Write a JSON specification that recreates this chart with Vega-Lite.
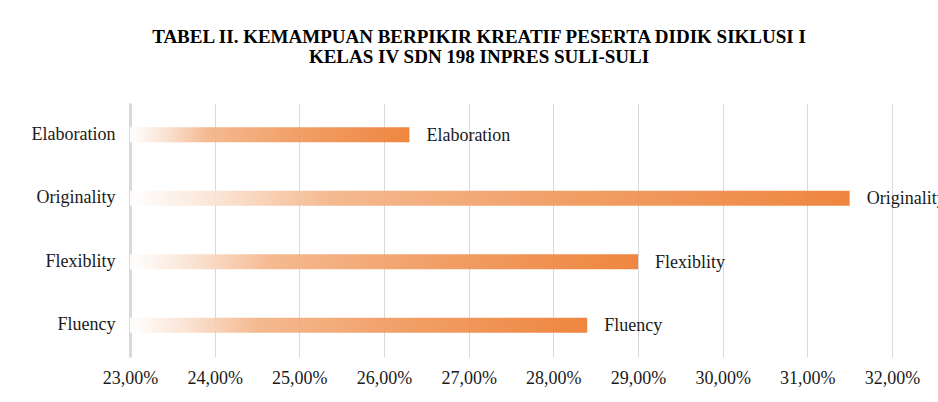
{
  "$schema": "https://vega.github.io/schema/vega-lite/v6.json",
  "autosize": "none",
  "width": 762,
  "height": 254,
  "padding": {"left": 130, "top": 103, "right": 46, "bottom": 45},
  "background": "white",
  "config": {
    "locale": {"number": {"decimal": ",", "thousands": ".", "grouping": [3], "currency": ["", ""]}},
    "view": {"stroke": null},
    "font": "Liberation Serif, serif"
  },
  "title": {
    "text": ["TABEL II. KEMAMPUAN BERPIKIR KREATIF PESERTA DIDIK SIKLUSI I", "KELAS IV SDN 198 INPRES SULI-SULI"],
    "font": "Liberation Serif, serif",
    "fontWeight": "bold",
    "fontSize": 19,
    "color": "#000000",
    "anchor": "middle",
    "dx": -32,
    "offset": 36,
    "lineHeight": 20
  },
  "data": {
    "values": [
      {"category": "Elaboration", "value": 0.263},
      {"category": "Originality", "value": 0.315},
      {"category": "Flexiblity", "value": 0.290},
      {"category": "Fluency", "value": 0.284}
    ]
  },
  "encoding": {
    "y": {
      "field": "category",
      "type": "nominal",
      "sort": ["Elaboration", "Originality", "Flexiblity", "Fluency"],
      "title": null,
      "axis": {
        "domain": true,
        "domainColor": "#D9D9D9",
        "domainWidth": 3,
        "ticks": false,
        "grid": false,
        "labelFont": "Liberation Serif, serif",
        "labelFontSize": 18,
        "labelColor": "#1a1a1a",
        "labelPadding": 15
      }
    }
  },
  "layer": [
    {
      "mark": {
        "type": "bar",
        "size": 15,
        "fillOpacity": 0.93,
        "fill": {
          "gradient": "linear",
          "x1": 0, "y1": 0, "x2": 1, "y2": 0,
          "stops": [
            {"offset": 0, "color": "#FFFFFF"},
            {"offset": 0.12, "color": "#FAE2D2"},
            {"offset": 0.28, "color": "#F4B487"},
            {"offset": 0.6, "color": "#F0985C"},
            {"offset": 1, "color": "#ED7D31"}
          ]
        }
      },
      "encoding": {
        "x": {
          "field": "value",
          "type": "quantitative",
          "scale": {"domain": [0.23, 0.32], "zero": false, "nice": false},
          "title": null,
          "axis": {
            "values": [0.23, 0.24, 0.25, 0.26, 0.27, 0.28, 0.29, 0.30, 0.31, 0.32],
            "format": ".2%",
            "grid": true,
            "gridColor": "#D9D9D9",
            "gridWidth": 1,
            "domain": false,
            "ticks": false,
            "labelFlush": false,
            "labelOverlap": false,
            "labelFont": "Liberation Serif, serif",
            "labelFontSize": 18,
            "labelColor": "#1a1a1a",
            "labelPadding": 12
          }
        },
        "x2": {"datum": 0.23}
      }
    },
    {
      "mark": {
        "type": "text",
        "align": "left",
        "baseline": "middle",
        "dx": 17,
        "dy": 1,
        "font": "Liberation Serif, serif",
        "fontSize": 18,
        "color": "#1a1a1a"
      },
      "encoding": {
        "x": {"field": "value", "type": "quantitative"},
        "text": {"field": "category"}
      }
    }
  ]
}
